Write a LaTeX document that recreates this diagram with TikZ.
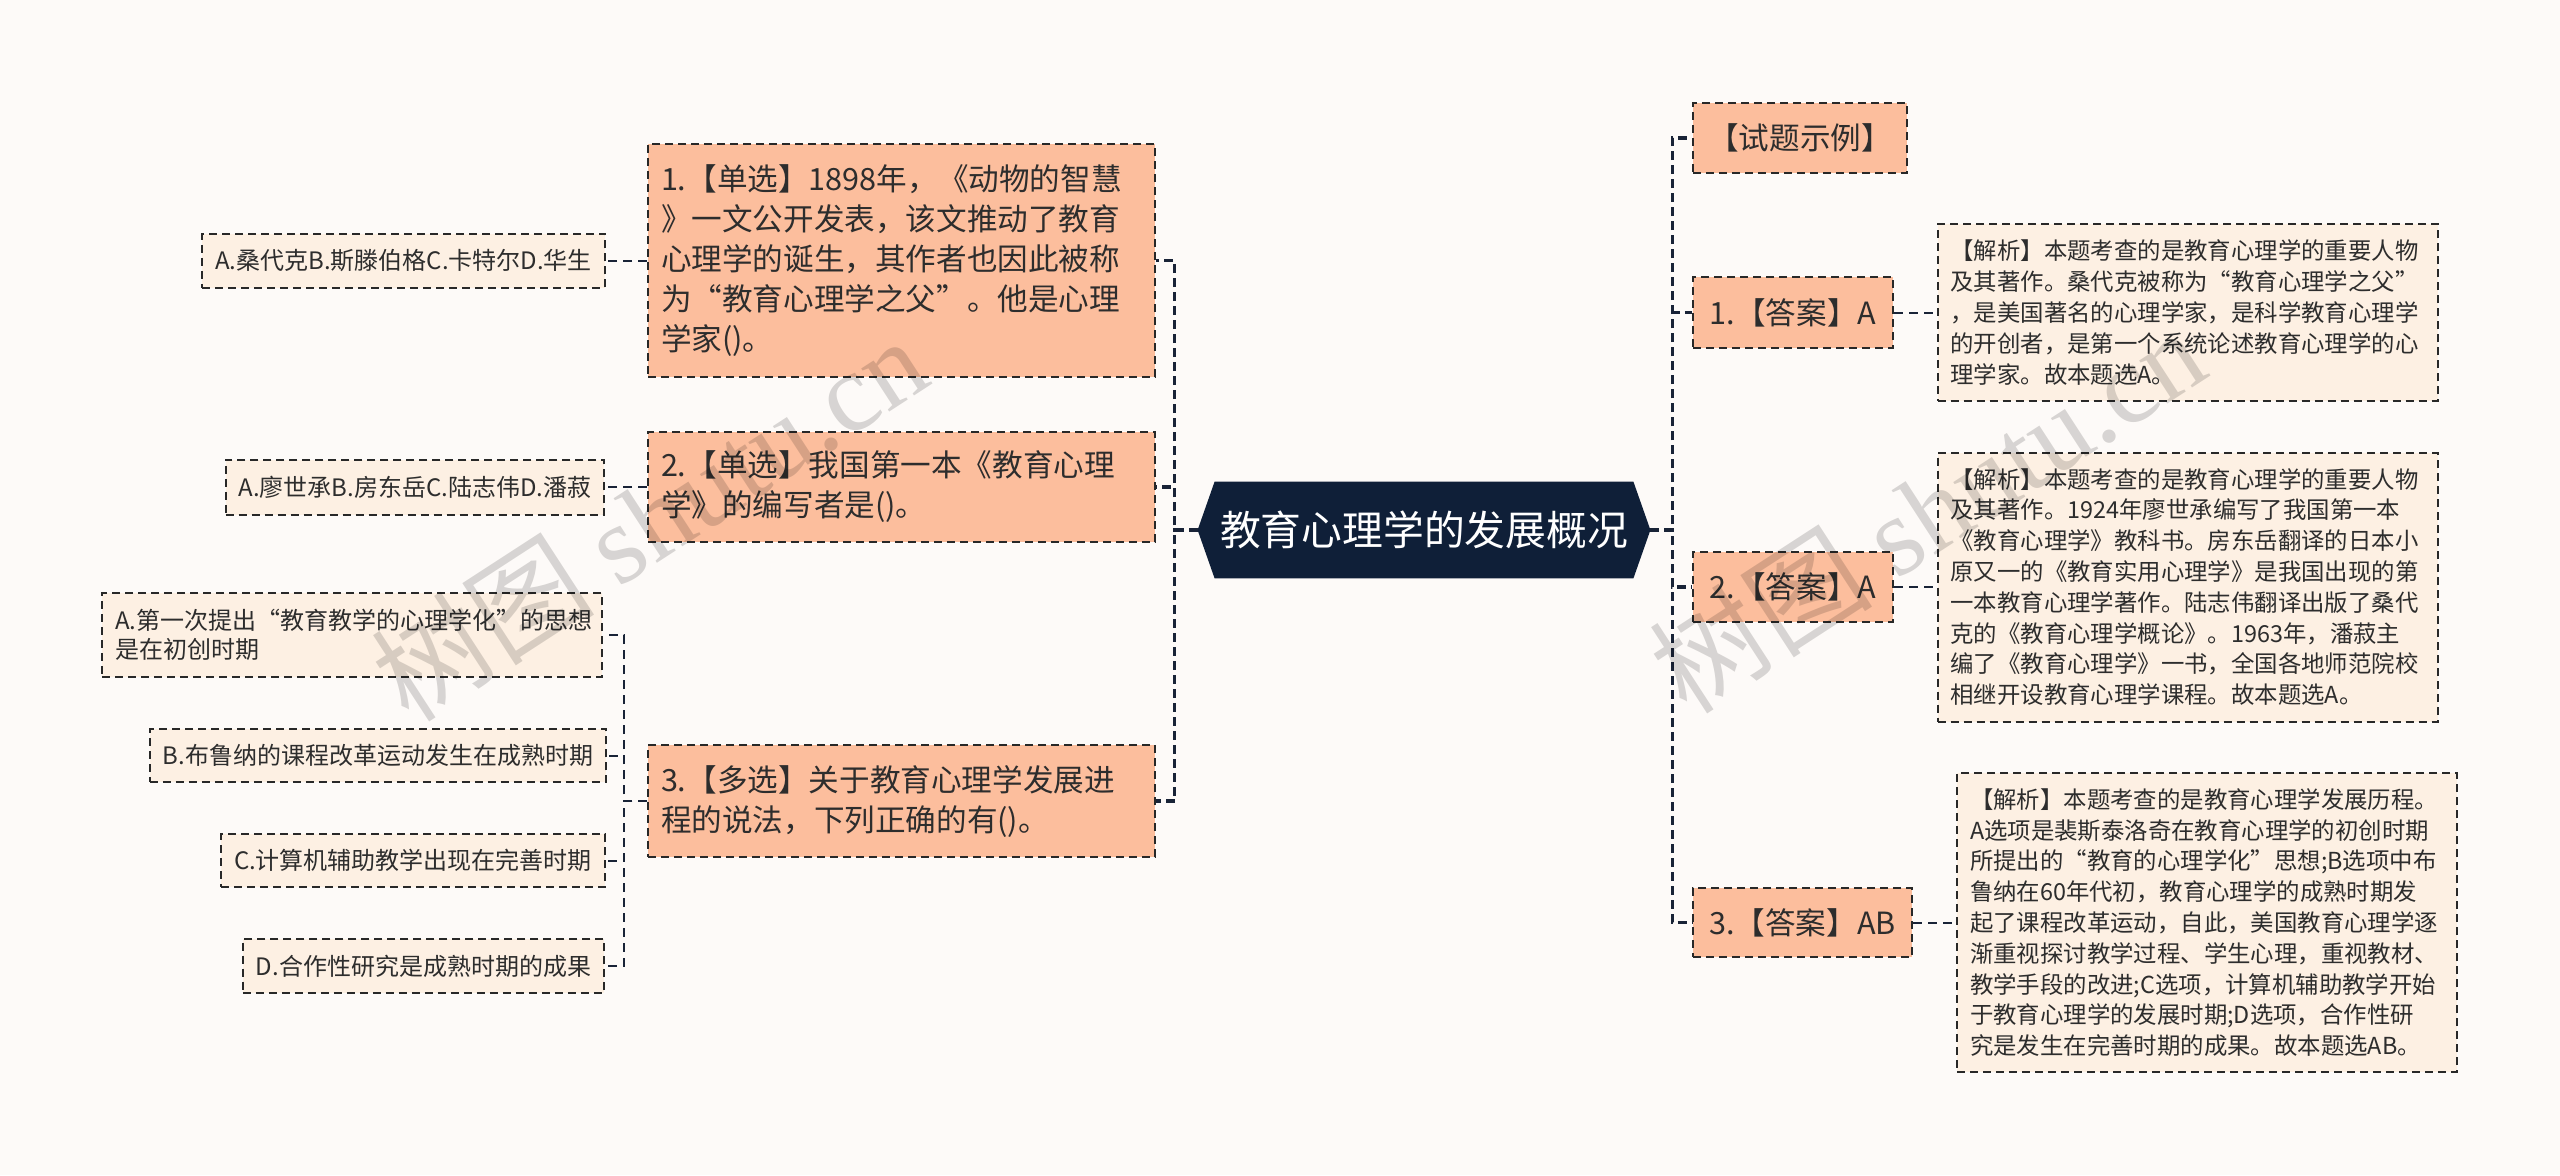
\documentclass[tikz,border=0pt]{standalone}
\usepackage{fontspec}
\setmainfont{Noto Sans CJK SC}
\newfontfamily\wmserif{Liberation Serif}
\definecolor{bgc}{RGB}{253,250,248}
\definecolor{peach}{RGB}{252,190,157}
\definecolor{cream}{RGB}{253,240,227}
\definecolor{navy}{RGB}{15,31,56}
\definecolor{bordc}{RGB}{40,40,40}
\definecolor{txtc}{RGB}{45,45,45}
\definecolor{linec}{RGB}{25,35,55}
\pgfdeclarelayer{bottom}
\pgfdeclarelayer{background}
\pgfsetlayers{bottom,background,main}
\begin{document}
\begin{tikzpicture}[x=0.5pt,y=-0.5pt,
  box/.style={draw=bordc, line width=1pt, dash pattern=on 4pt off 2.5pt, text=txtc, inner ysep=0pt, inner xsep=6.5pt},
  lvone/.style={box, fill=peach, font=\fontsize{15.3}{20}\selectfont},
  lvtwo/.style={box, fill=cream, font=\fontsize{12}{14.5}\selectfont},
  expl/.style={box, fill=cream, font=\fontsize{11.7}{15.4}\selectfont, align=left, text width=237pt},
  mainconn/.style={draw=linec, line width=1.6pt, dash pattern=on 4.5pt off 2.5pt},
  subconn/.style={draw=linec, line width=1pt, dash pattern=on 4.5pt off 3pt},
  wmark/.style={rotate=33, text=black, opacity=0.15, font=\fontsize{56}{60}\selectfont},
]
\begin{pgfonlayer}{bottom}
\fill[bgc] (0,0) rectangle (2560,1175);
\end{pgfonlayer}
\useasboundingbox (0,0) rectangle (2560,1175);

% root
\node[minimum width=226pt, minimum height=48pt, inner sep=0pt, text=white, font=\fontsize{20.4}{24}\selectfont] (root) at (1424,530) {教育心理学的发展概况};
\begin{pgfonlayer}{background}
\fill[navy] (root.west) -- ([xshift=8.5pt]root.north west) -- ([xshift=-8.5pt]root.north east) -- (root.east) -- ([xshift=-8.5pt]root.south east) -- ([xshift=8.5pt]root.south west) -- cycle;
\end{pgfonlayer}

% left level one
\node[lvone, align=left, text width=240.5pt, minimum height=116.5pt] (q1) at (901.5,260.5) {1.【单选】1898年，《动物的智慧\\》一文公开发表，该文推动了教育\\心理学的诞生，其作者也因此被称\\为“教育心理学之父”。他是心理\\学家()。};
\node[lvone, align=left, text width=240.5pt, minimum height=55pt] (q2) at (901.5,487) {2.【单选】我国第一本《教育心理\\学》的编写者是()。};
\node[lvone, align=left, text width=240.5pt, minimum height=56pt] (q3) at (901.5,801) {3.【多选】关于教育心理学发展进\\程的说法，下列正确的有()。};

% left level two
\node[lvtwo, minimum width=199.5pt, minimum height=27pt] (a1) at (403.5,260.5) {A.桑代克B.斯滕伯格C.卡特尔D.华生};
\node[lvtwo, minimum width=188pt, minimum height=27.5pt] (a2) at (415,487) {A.廖世承B.房东岳C.陆志伟D.潘菽};
\node[lvtwo, align=left, text width=237pt, minimum height=42pt] (c1) at (352,635) {A.第一次提出“教育教学的心理学化”的思想\\是在初创时期};
\node[lvtwo, minimum width=224pt, minimum height=26.5pt] (c2) at (378,755.5) {B.布鲁纳的课程改革运动发生在成熟时期};
\node[lvtwo, minimum width=189pt, minimum height=26.5pt] (c3) at (413,860.5) {C.计算机辅助教学出现在完善时期};
\node[lvtwo, minimum width=178.5pt, minimum height=27pt] (c4) at (423.5,966) {D.合作性研究是成熟时期的成果};

% right level one
\node[lvone, minimum width=107pt, minimum height=35pt] (r0) at (1800,138) {【试题示例】};
\node[lvone, minimum width=100pt, minimum height=35.5pt] (r1) at (1793,312.5) {1.【答案】A};
\node[lvone, minimum width=100pt, minimum height=35pt] (r2) at (1793,587) {2.【答案】A};
\node[lvone, minimum width=109.5pt, minimum height=34.5pt] (r3) at (1802.5,922.5) {3.【答案】AB};

% right explanations
\node[expl, minimum height=88.5pt] (e1) at (2187.5,312.5) {【解析】本题考查的是教育心理学的重要人物\\及其著作。桑代克被称为“教育心理学之父”\\，是美国著名的心理学家，是科学教育心理学\\的开创者，是第一个系统论述教育心理学的心\\理学家。故本题选A。};
\node[expl, minimum height=134.5pt] (e2) at (2187.5,587) {【解析】本题考查的是教育心理学的重要人物\\及其著作。1924年廖世承编写了我国第一本\\《教育心理学》教科书。房东岳翻译的日本小\\原又一的《教育实用心理学》是我国出现的第\\一本教育心理学著作。陆志伟翻译出版了桑代\\克的《教育心理学概论》。1963年，潘菽主\\编了《教育心理学》一书，全国各地师范院校\\相继开设教育心理学课程。故本题选A。};
\node[expl, minimum height=149.5pt] (e3) at (2207,922.5) {【解析】本题考查的是教育心理学发展历程。\\A选项是裴斯泰洛奇在教育心理学的初创时期\\所提出的“教育的心理学化”思想;B选项中布\\鲁纳在60年代初，教育心理学的成熟时期发\\起了课程改革运动，自此，美国教育心理学逐\\渐重视探讨教学过程、学生心理，重视教材、\\教学手段的改进;C选项，计算机辅助教学开始\\于教育心理学的发展时期;D选项，合作性研\\究是发生在完善时期的成果。故本题选AB。};

% connectors
\begin{pgfonlayer}{background}
\draw[mainconn] (root.west) -- ++(-23,0) |- (q1.east);
\draw[mainconn] (root.west) -- ++(-23,0) |- (q2.east);
\draw[mainconn] (root.west) -- ++(-23,0) |- (q3.east);
\draw[mainconn] (root.east) -- ++(22,0) |- (r0.west);
\draw[mainconn] (root.east) -- ++(22,0) |- (r1.west);
\draw[mainconn] (root.east) -- ++(22,0) |- (r2.west);
\draw[mainconn] (root.east) -- ++(22,0) |- (r3.west);
\draw[subconn] (q1.west) -- (a1.east);
\draw[subconn] (q2.west) -- (a2.east);
\draw[subconn] (q3.west) -- ++(-23,0) |- (c1.east);
\draw[subconn] (q3.west) -- ++(-23,0) |- (c2.east);
\draw[subconn] (q3.west) -- ++(-23,0) |- (c3.east);
\draw[subconn] (q3.west) -- ++(-23,0) |- (c4.east);
\draw[subconn] (r1.east) -- (e1.west);
\draw[subconn] (r2.east) -- (e2.west);
\draw[subconn] (r3.east) -- (e3.west);
\end{pgfonlayer}

% watermarks
\node[wmark] (wm1) at (649,518) {树图 {\wmserif shutu.cn}};
\node[wmark] (wm2) at (1927,510) {树图 {\wmserif shutu.cn}};
\end{tikzpicture}
\end{document}
